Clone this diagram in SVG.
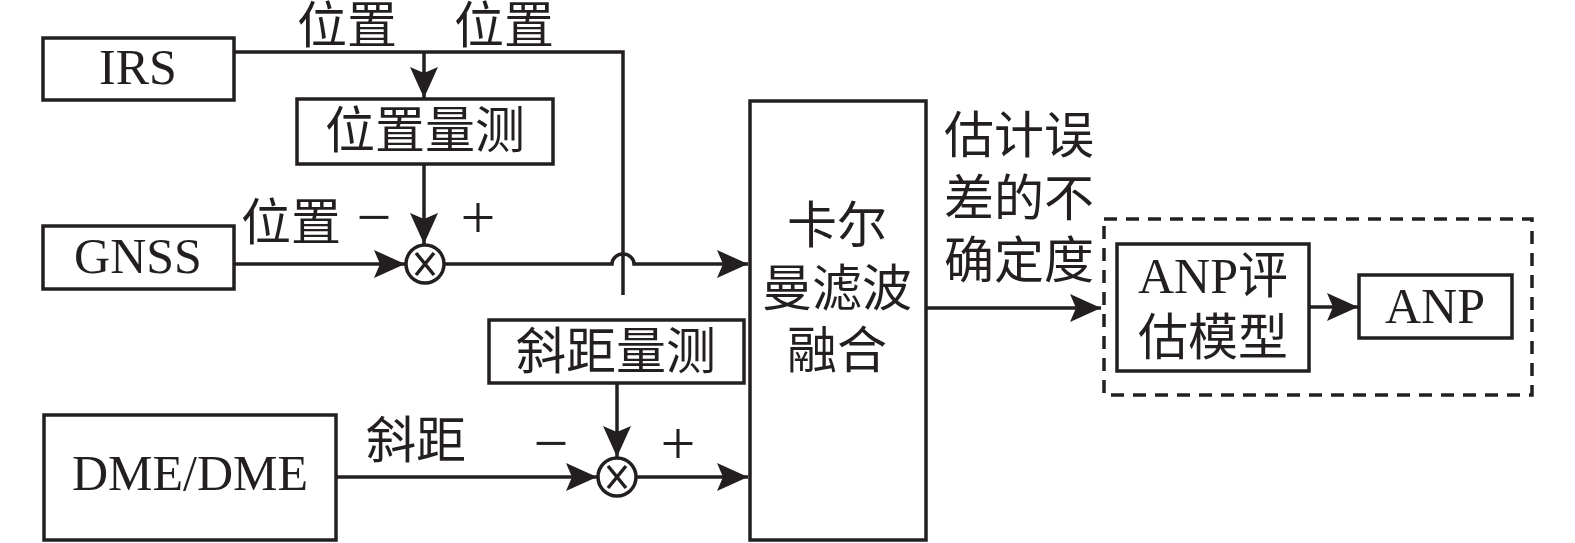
<svg xmlns="http://www.w3.org/2000/svg" width="1575" height="543" viewBox="0 0 1575 543">
<style>
.box{fill:#fff;stroke:#231f20;stroke-width:3.5}
.ln{fill:none;stroke:#231f20;stroke-width:3.5}
.t{font-family:"Liberation Serif","Noto Sans CJK SC",serif;font-size:50px;fill:#231f20;text-anchor:middle}
.s{font-family:"Liberation Serif",serif;font-size:62px;fill:#231f20;text-anchor:middle}
</style>
<defs>
<marker id="ah" markerUnits="userSpaceOnUse" markerWidth="34" markerHeight="32" viewBox="-32 -16 34 32" refX="0" refY="0" orient="auto">
<path d="M0,0 L-31,-14 L-25,0 L-31,14 Z" fill="#231f20"/>
</marker>
</defs>
<rect width="1575" height="543" fill="#fff"/>
<g id="connectors">
<path class="ln" d="M234,52 H623 V295"/>
<path class="ln" d="M424,52 V98" marker-end="url(#ah)"/>
<path class="ln" d="M424,164 V244" marker-end="url(#ah)"/>
<path class="ln" d="M234,264 H405" marker-end="url(#ah)"/>
<path class="ln" d="M444,264 H612 A11,10 0 0 1 634,264 H748" marker-end="url(#ah)"/>
<path class="ln" d="M617,383 V457" marker-end="url(#ah)"/>
<path class="ln" d="M336,477 H597" marker-end="url(#ah)"/>
<path class="ln" d="M636,477 H748" marker-end="url(#ah)"/>
<path class="ln" d="M926,308 H1101" marker-end="url(#ah)"/>
<path class="ln" d="M1309,307 H1358" marker-end="url(#ah)"/>
<text class="t" x="347" y="43">位置</text>
<text class="t" x="504" y="43">位置</text>
<text class="t" x="291" y="240">位置</text>
<text class="s" x="374" y="238">−</text>
<text class="s" x="478" y="238">+</text>
<text class="t" x="416" y="458">斜距</text>
<text class="s" x="551" y="464">−</text>
<text class="s" x="678" y="464">+</text>
<text class="t" x="1019" y="153">估计误</text>
<text class="t" x="1019" y="216">差的不</text>
<text class="t" x="1019" y="278">确定度</text>
</g>
<g id="irs"><rect class="box" x="43" y="38" width="191" height="62"/><text class="t" x="138" y="84">IRS</text></g>
<g id="pos-meas"><rect class="box" x="297" y="99" width="256" height="65"/><text class="t" x="425" y="148">位置量测</text></g>
<g id="gnss"><rect class="box" x="43" y="226" width="191" height="63"/><text class="t" x="138" y="273">GNSS</text></g>
<g id="sum1"><circle class="ln" cx="425" cy="264" r="19" stroke-width="3"/><path class="ln" stroke-width="2.5" d="M416,253 L434,275 M434,253 L416,275"/></g>
<g id="range-meas"><rect class="box" x="489" y="320" width="255" height="63"/><text class="t" x="616" y="369">斜距量测</text></g>
<g id="sum2"><circle class="ln" cx="617" cy="477" r="19" stroke-width="3"/><path class="ln" stroke-width="2.5" d="M608,466 L626,488 M626,466 L608,488"/></g>
<g id="dme"><rect class="box" x="44" y="415" width="292" height="125"/><text class="t" x="190" y="490">DME/DME</text></g>
<g id="kalman"><rect class="box" x="750" y="101" width="176" height="439"/>
<text class="t" x="837" y="243">卡尔</text><text class="t" x="837" y="306">曼滤波</text><text class="t" x="837" y="368">融合</text></g>
<g id="anp-group"><rect x="1104" y="219" width="428" height="176" fill="none" stroke="#231f20" stroke-width="3.5" stroke-dasharray="13,9"/></g>
<g id="anp-model"><rect class="box" x="1117" y="244" width="192" height="127"/>
<text class="t" x="1213" y="293">ANP评</text><text class="t" x="1213" y="355">估模型</text></g>
<g id="anp"><rect class="box" x="1359" y="275" width="153" height="63"/><text class="t" x="1435" y="323">ANP</text></g>
</svg>
